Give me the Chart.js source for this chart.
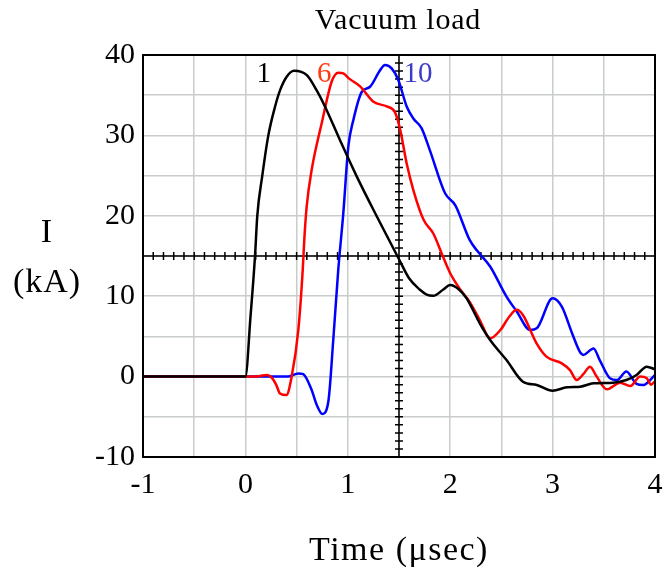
<!DOCTYPE html>
<html>
<head>
<meta charset="utf-8">
<script src="https://cdn.jsdelivr.net/npm/chart.js@4"></script>
<style>
  html, body { margin: 0; padding: 0; background: #fff; }
  #wrap { width: 665px; height: 577px; }
</style>
</head>
<body>
<div id="wrap"><canvas id="chart" width="665" height="577"></canvas></div>
<script>
// shot 1
const t1 = [-1, 0, 0.05, 0.094, 0.116, 0.165, 0.224, 0.29, 0.338, 0.403, 0.475, 0.6, 0.696, 0.777, 0.924, 1.087, 1.28, 1.5, 1.6, 1.705, 1.77, 1.835, 1.93, 2.0, 2.08, 2.16, 2.29, 2.39, 2.55, 2.71, 2.845, 3.0, 3.14, 3.27, 3.4, 3.59, 3.72, 3.82, 3.92, 4.0];
const i1 = [0, 0, 7.5, 15, 20, 25, 30, 33.6, 35.6, 37.3, 38.05, 37.5, 35.6, 33.6, 29.4, 24.9, 20, 14.6, 12.2, 10.8, 10.2, 10.06, 10.8, 11.4, 10.9, 9.74, 6.6, 4.55, 2.06, -0.63, -1.04, -1.75, -1.33, -1.25, -0.83, -0.75, -0.42, 0.2, 1.24, 0.9];
// shot 6
const t6 = [-1, 0.1, 0.143, 0.21, 0.257, 0.3, 0.338, 0.4, 0.452, 0.517, 0.56, 0.575, 0.598, 0.647, 0.745, 0.843, 0.907, 0.956, 1.02, 1.12, 1.25, 1.38, 1.46, 1.51, 1.575, 1.64, 1.74, 1.835, 1.93, 2.0, 2.1, 2.19, 2.29, 2.39, 2.49, 2.58, 2.65, 2.71, 2.845, 2.94, 3.09, 3.17, 3.235, 3.3, 3.365, 3.43, 3.53, 3.66, 3.76, 3.855, 3.92, 3.96, 4.0];
const i6 = [0, 0, 0.08, 0.2, -0.13, -1.0, -2.1, -2.3, 0, 5.8, 13.3, 17, 21.1, 25.7, 31.5, 36.7, 37.8, 37.7, 37.0, 36.1, 34.2, 33.6, 32.9, 30.8, 26.5, 23.2, 19.5, 17.8, 14.9, 12.85, 10.8, 9.3, 7.0, 4.76, 5.8, 7.5, 8.3, 7.66, 4.1, 2.48, 1.65, 0.8, -0.42, 0.3, 1.24, 0, -1.58, -0.75, -1.17, 0, -0.2, -1.0, -0.6];
// shot 10
const t10 = [-1, 0.42, 0.517, 0.565, 0.647, 0.696, 0.751, 0.81, 0.858, 0.907, 0.956, 1.005, 1.054, 1.136, 1.217, 1.315, 1.363, 1.43, 1.493, 1.575, 1.64, 1.72, 1.8, 1.95, 2.05, 2.19, 2.26, 2.39, 2.55, 2.65, 2.78, 2.845, 3.0, 3.09, 3.19, 3.27, 3.3, 3.4, 3.46, 3.56, 3.63, 3.72, 3.82, 3.885, 4.0];
const i10 = [0, 0, 0.4, 0.3, -1.67, -3.5, -4.65, -3.1, 4.55, 13.3, 20.3, 28.6, 31.9, 35.4, 36.05, 38.1, 38.75, 38.3, 36.9, 33.6, 32.1, 30.9, 28.2, 22.8, 21.3, 17.0, 15.7, 13.7, 9.95, 8.1, 5.8, 6.0, 9.74, 8.7, 5.4, 3.0, 2.7, 3.5, 2.06, -0.2, -0.42, 0.62, -0.9, -1.04, 0.2];

const curveNames = ['1', '6', '10'];
const curveLabelX = [0.18, 0.77, 1.686];
const curveLabelY = [36.6, 36.6, 36.6];

const xTicks = [-1, 0, 1, 2, 3, 4];
const yTicks = [-10, 0, 10, 20, 30, 40];

const SERIF = '"Liberation Serif", "Times New Roman", serif';

function pts(xs, ys) {
  return xs.map((x, k) => ({ x: x, y: ys[k] }));
}

// border, crosshair with small ticks, and all free text
const decor = {
  id: 'decor',
  beforeDatasetsDraw(chart) {
    const { ctx, chartArea: a, scales: { x, y } } = chart;
    const cx = x.getPixelForValue(1.5);
    const cy = y.getPixelForValue(15);
    ctx.save();
    ctx.strokeStyle = '#000';
    ctx.lineWidth = 1.5;
    ctx.beginPath();
    ctx.moveTo(a.left, cy); ctx.lineTo(a.right, cy);
    ctx.moveTo(cx, a.top); ctx.lineTo(cx, a.bottom);
    for (let k = -10; k <= 40; k++) {
      const py = y.getPixelForValue(k);
      ctx.moveTo(cx - 4, py); ctx.lineTo(cx + 4, py);
    }
    for (let k = -10; k <= 40; k++) {
      const px = x.getPixelForValue(k / 10);
      ctx.moveTo(px, cy - 4); ctx.lineTo(px, cy + 4);
    }
    ctx.stroke();
    ctx.restore();
  },
  afterDraw(chart) {
    const { ctx, chartArea: a, scales: { x, y } } = chart;
    ctx.save();
    ctx.strokeStyle = '#000';
    ctx.lineWidth = 2;
    ctx.strokeRect(a.left, a.top, a.right - a.left, a.bottom - a.top);

    ctx.fillStyle = '#000';
    ctx.textAlign = 'center';
    ctx.textBaseline = 'alphabetic';
    ctx.font = '30px ' + SERIF;
    ctx.letterSpacing = '0.8px';
    ctx.fillText('Vacuum load', 398, 29);

    ctx.font = '34px ' + SERIF;
    ctx.letterSpacing = '1px';
    ctx.fillText('I', 47, 242);
    ctx.fillText('(kA)', 47, 292);
    ctx.letterSpacing = '1.5px';
    ctx.fillText('Time (\u03bcsec)', 399, 560);

    ctx.letterSpacing = '0px';
    ctx.font = '29px ' + SERIF;
    const cols = ['#000000', '#ff3a10', '#3c3cc8'];
    curveNames.forEach((n, k) => {
      ctx.fillStyle = cols[k];
      ctx.fillText(n, x.getPixelForValue(curveLabelX[k]), y.getPixelForValue(curveLabelY[k]));
    });
    ctx.restore();
  }
};

const line = (data, color) => ({
  data: data,
  borderColor: color,
  backgroundColor: color,
  borderWidth: 2.5,
  pointRadius: 0,
  fill: false,
  cubicInterpolationMode: 'monotone'
});

new Chart(document.getElementById('chart'), {
  type: 'line',
  data: {
    datasets: [
      line(pts(t1, i1), '#000000'),
      line(pts(t6, i6), '#ff0000'),
      line(pts(t10, i10), '#0000ff')
    ]
  },
  options: {
    responsive: false,
    animation: false,
    layout: { padding: { top: 55, right: 10, left: 0, bottom: 0 } },
    plugins: { legend: { display: false }, tooltip: { enabled: false } },
    scales: {
      x: {
        type: 'linear',
        min: -1, max: 4,
        afterFit(s) { s.height = 120; s.paddingLeft = 0; s.paddingRight = 0; },
        grid: { color: '#c9cdc9', lineWidth: 1.5, drawTicks: false },
        border: { display: false },
        ticks: {
          stepSize: 0.5,
          padding: 10,
          color: '#000',
          font: { family: SERIF, size: 30 },
          maxRotation: 0,
          autoSkip: false,
          callback: v => xTicks.includes(v) ? String(v) : ''
        }
      },
      y: {
        min: -10, max: 40,
        afterFit(s) { s.width = 143; s.paddingTop = 0; s.paddingBottom = 0; },
        grid: { color: '#c9cdc9', lineWidth: 1.5, drawTicks: false },
        border: { display: false },
        ticks: {
          stepSize: 5,
          padding: 8,
          color: '#000',
          font: { family: SERIF, size: 30 },
          autoSkip: false,
          callback: v => yTicks.includes(v) ? String(v) : ''
        }
      }
    }
  },
  plugins: [decor]
});
</script>
</body>
</html>
